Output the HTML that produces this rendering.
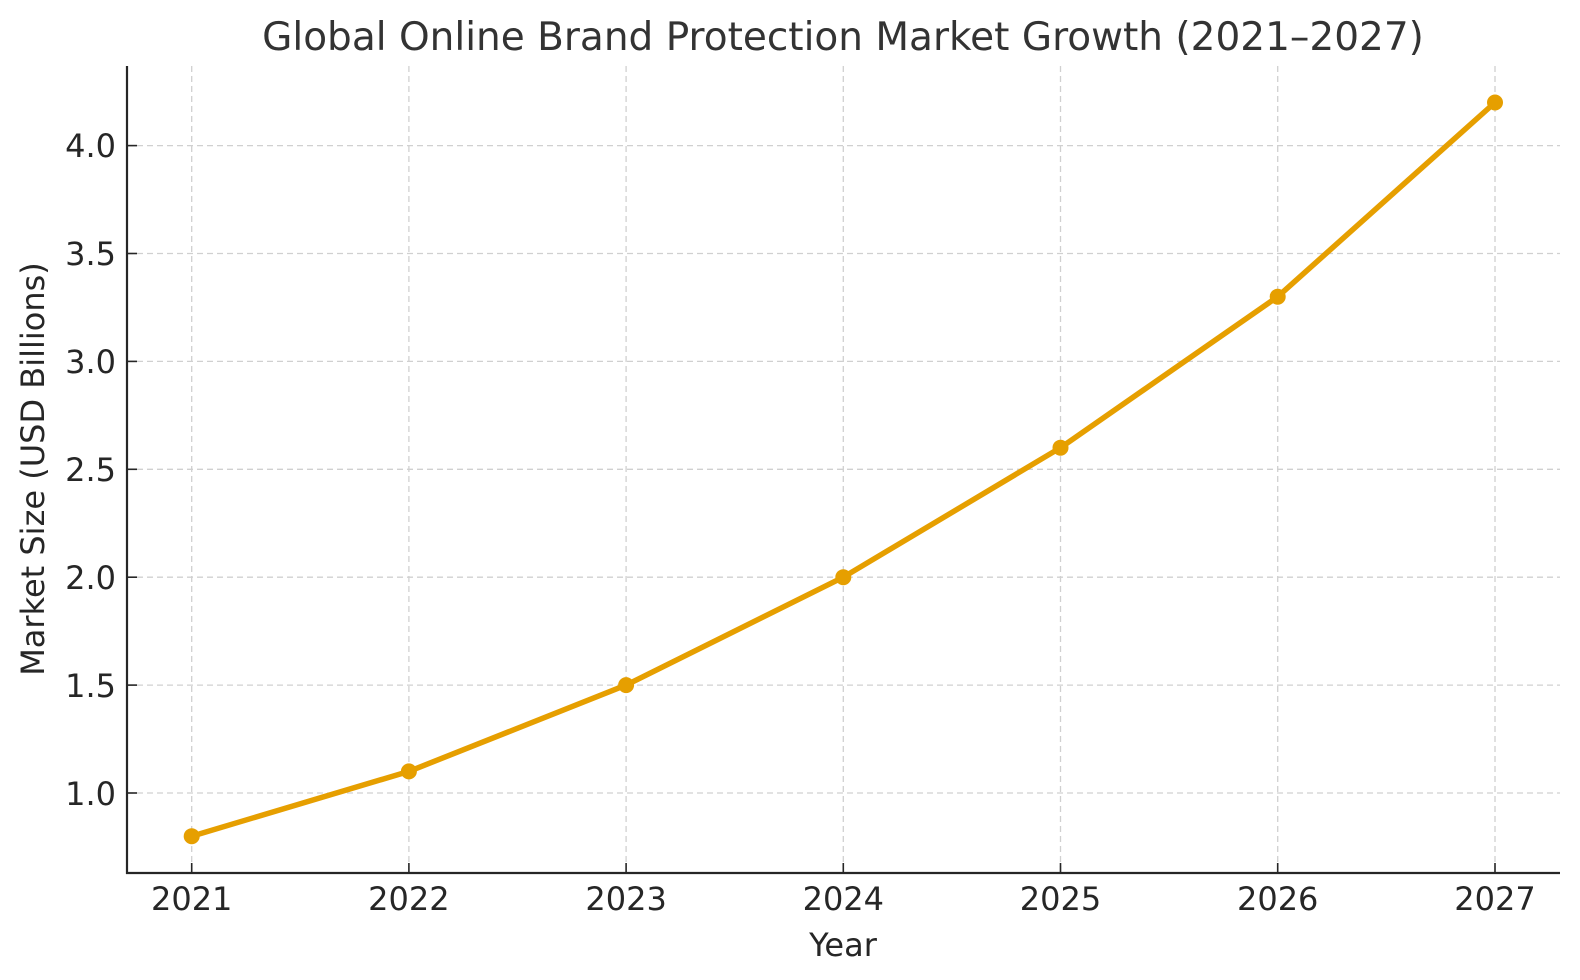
<!DOCTYPE html>
<html><head><meta charset="utf-8"><style>body{margin:0;background:#fff}svg{display:block}text{font-family:"DejaVu Sans","Liberation Sans",sans-serif;fill:#262626}</style></head><body>
<svg width="1580" height="980" viewBox="0 0 1580 980">
<g stroke="#d0d0d0" stroke-width="1.3" stroke-dasharray="6,4">
<line x1="191.7" y1="66" x2="191.7" y2="873"/><line x1="408.9" y1="66" x2="408.9" y2="873"/><line x1="626.1" y1="66" x2="626.1" y2="873"/><line x1="843.3" y1="66" x2="843.3" y2="873"/><line x1="1060.5" y1="66" x2="1060.5" y2="873"/><line x1="1277.7" y1="66" x2="1277.7" y2="873"/><line x1="1495" y1="66" x2="1495" y2="873"/>
<line x1="127" y1="793" x2="1560" y2="793"/><line x1="127" y1="685.1" x2="1560" y2="685.1"/><line x1="127" y1="577.2" x2="1560" y2="577.2"/><line x1="127" y1="469.3" x2="1560" y2="469.3"/><line x1="127" y1="361.4" x2="1560" y2="361.4"/><line x1="127" y1="253.5" x2="1560" y2="253.5"/><line x1="127" y1="145.6" x2="1560" y2="145.6"/>
</g>
<g stroke="#262626" stroke-width="2.2"><line x1="127" y1="66" x2="127" y2="874"/><line x1="126" y1="873" x2="1560" y2="873"/>
<g stroke-width="1.6"><line x1="191.7" y1="873" x2="191.7" y2="863"/><line x1="408.9" y1="873" x2="408.9" y2="863"/><line x1="626.1" y1="873" x2="626.1" y2="863"/><line x1="843.3" y1="873" x2="843.3" y2="863"/><line x1="1060.5" y1="873" x2="1060.5" y2="863"/><line x1="1277.7" y1="873" x2="1277.7" y2="863"/><line x1="1495" y1="873" x2="1495" y2="863"/>
<line x1="137" y1="793" x2="127" y2="793"/><line x1="137" y1="685.1" x2="127" y2="685.1"/><line x1="137" y1="577.2" x2="127" y2="577.2"/><line x1="137" y1="469.3" x2="127" y2="469.3"/><line x1="137" y1="361.4" x2="127" y2="361.4"/><line x1="137" y1="253.5" x2="127" y2="253.5"/><line x1="137" y1="145.6" x2="127" y2="145.6"/></g></g>
<polyline fill="none" stroke="#e69f00" stroke-width="5.5" stroke-linejoin="round" points="191.7,836.2 408.9,771.4 626.1,685.1 843.3,577.2 1060.5,447.7 1277.7,296.7 1495,102.5"/>
<g fill="#e69f00"><circle cx="191.7" cy="836.2" r="8"/><circle cx="408.9" cy="771.4" r="8"/><circle cx="626.1" cy="685.1" r="8"/><circle cx="843.3" cy="577.2" r="8"/><circle cx="1060.5" cy="447.7" r="8"/><circle cx="1277.7" cy="296.7" r="8"/><circle cx="1495" cy="102.5" r="8"/></g>
<g font-size="32" text-anchor="middle"><text x="191.7" y="910">2021</text><text x="408.9" y="910">2022</text><text x="626.1" y="910">2023</text><text x="843.3" y="910">2024</text><text x="1060.5" y="910">2025</text><text x="1277.7" y="910">2026</text><text x="1495" y="910">2027</text></g>
<g font-size="32" text-anchor="end"><text x="116" y="805">1.0</text><text x="116" y="697">1.5</text><text x="116" y="589">2.0</text><text x="116" y="481">2.5</text><text x="116" y="373">3.0</text><text x="116" y="265">3.5</text><text x="116" y="157">4.0</text></g>
<text x="843" y="956" font-size="32" text-anchor="middle">Year</text>
<text transform="translate(44,469) rotate(-90)" font-size="32" text-anchor="middle">Market Size (USD Billions)</text>
<text x="843" y="50" font-size="39" text-anchor="middle" style="fill:#333">Global Online Brand Protection Market Growth (2021–2027)</text>
</svg></body></html>
